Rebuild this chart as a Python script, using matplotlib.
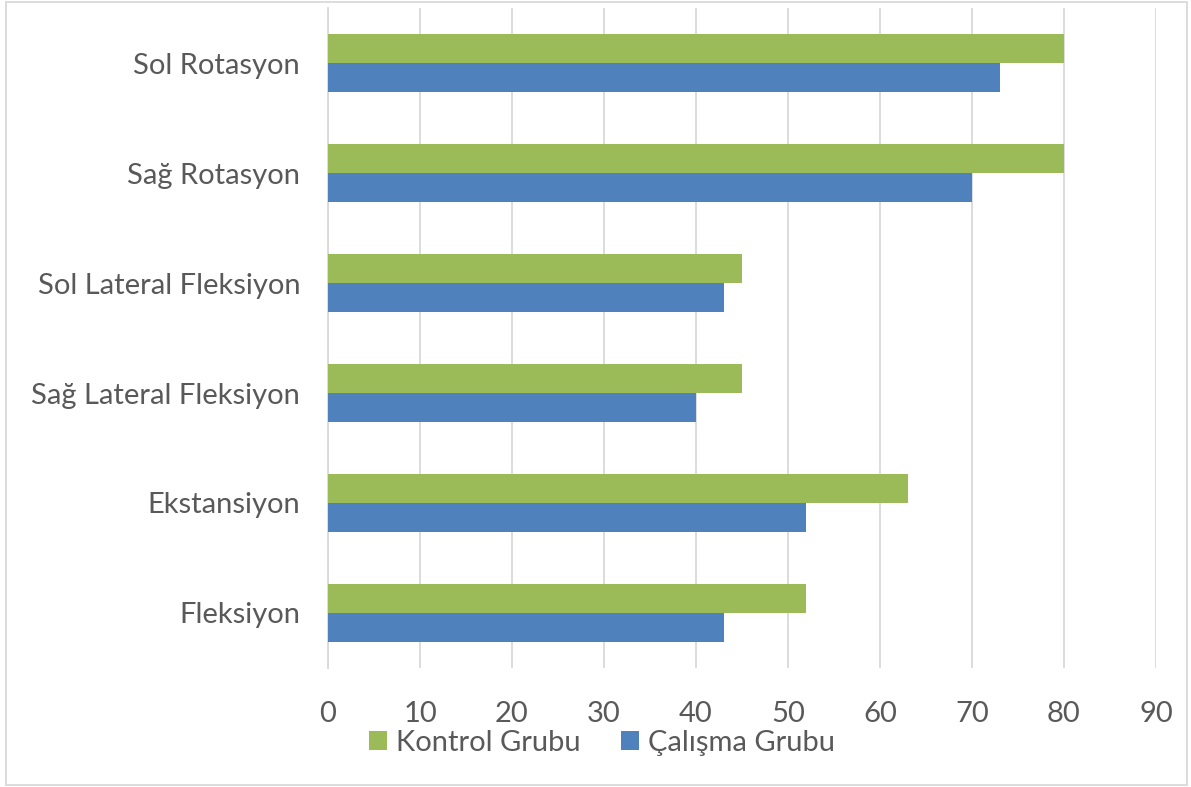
import matplotlib

matplotlib.use("Agg")
import matplotlib.pyplot as plt
import numpy as np
from matplotlib.patches import Rectangle

# values, bottom to top
categories = [
    "Fleksiyon",
    "Ekstansiyon",
    "Sağ Lateral Fleksiyon",
    "Sol Lateral Fleksiyon",
    "Sağ Rotasyon",
    "Sol Rotasyon",
]
kontrol = [52, 63, 45, 45, 80, 80]
calisma = [43, 52, 40, 43, 70, 73]
xticks = [0, 10, 20, 30, 40, 50, 60, 70, 80, 90]

GREEN = "#9BBB59"
BLUE = "#4F81BD"
TEXT = "#595959"
GRID = "#D9D9D9"

plt.rcParams["font.family"] = ["Lato", "DejaVu Sans"]

W, H = 1191, 787
fig = plt.figure(figsize=(W / 100, H / 100), dpi=100)
ax = fig.add_axes([328 / W, (H - 668) / H, 828 / W, 660 / H])

y = np.arange(len(categories))
h = 29 / 110
ax.barh(y + h / 2, kontrol, height=h, color=GREEN, label="Kontrol Grubu", zorder=3)
ax.barh(y - h / 2, calisma, height=h, color=BLUE, label="Çalışma Grubu", zorder=3)

ax.set_xlim(0, 90)
ax.set_ylim(-0.5, len(categories) - 0.5)
ax.set_xticks(xticks)
ax.set_yticks(y)
ax.set_yticklabels(categories)
ax.tick_params(axis="both", length=0, colors=TEXT, labelsize=21)
ax.tick_params(axis="y", pad=20)
ax.tick_params(axis="x", pad=24)
ax.grid(axis="x", color=GRID, linewidth=1.3, zorder=0)
for side in ["top", "right", "bottom"]:
    ax.spines[side].set_visible(False)
ax.spines["left"].set_color(GRID)
ax.spines["left"].set_linewidth(1.3)

handles, labels = ax.get_legend_handles_labels()
fig.legend(
    handles,
    labels,
    loc="center",
    bbox_to_anchor=(602 / W, 1 - 743 / H),
    ncol=2,
    frameon=False,
    fontsize=21,
    labelcolor=TEXT,
    handlelength=0.62,
    handleheight=0.62,
    handletextpad=0.3,
    columnspacing=1.4,
)

fig.patches.append(
    Rectangle((6 / W, 2 / H), 1181 / W, 783 / H, transform=fig.transFigure,
              fill=False, edgecolor=GRID, linewidth=1.3)
)

fig.savefig("out.png", dpi=100)
